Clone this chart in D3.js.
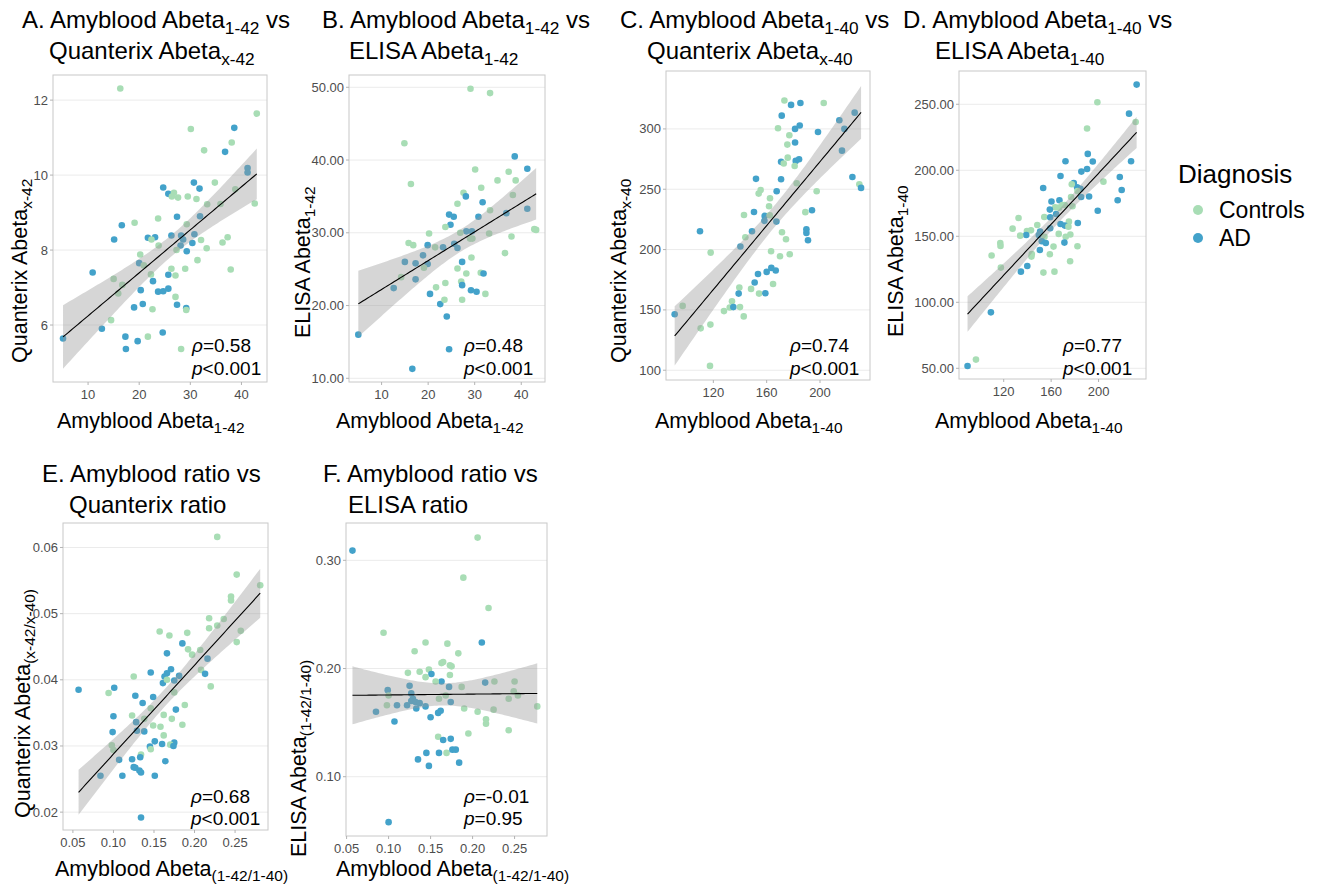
<!DOCTYPE html>
<html>
<head>
<meta charset="utf-8">
<script src="https://cdn.jsdelivr.net/npm/d3@7"></script>
<style>
body { margin: 0; background: #fff; }
svg { font-family: "Liberation Sans", Arial, sans-serif; }
.grid { stroke: #ebebeb; stroke-width: 1; }
.border { fill: none; stroke: #c8c8c8; stroke-width: 1; }
.tickmark { stroke: #b3b3b3; stroke-width: 1; }
.ticklabel { fill: #4d4d4d; font-size: 13px; }
.ribbon { fill: #999999; fill-opacity: 0.4; }
.fit { fill: none; stroke: #000; stroke-width: 1.1; }
.title { fill: #000; font-size: 24px; }
.axtitle { fill: #000; font-size: 21.5px; }
.stat { fill: #000; font-size: 19px; }
</style>
</head>
<body>
<svg id="chart" width="1324" height="885"></svg>
<script>
/* Groups */

var DIAGNOSIS = ["Controls", "AD"],
    COLORS    = ["#a8ddb5", "#43a2ca"];

/* Data: [x, y, group] with group 0 = Controls, 1 = AD */

var pointsA = [[16.3,12.31,0],[43.0,11.64,0],[38.6,11.26,1],[30.1,11.23,0],[38.1,10.87,0],[36.8,10.62,1],[32.7,10.66,0],[41.2,10.19,1],[41.2,10.07,1],[34.8,9.80,0],[30.7,9.80,1],[24.7,9.67,1],[31.8,9.64,1],[25.7,9.50,1],[26.8,9.53,0],[26.4,9.43,0],[27.6,9.40,0],[29.5,9.43,0],[31.2,9.36,0],[38.8,9.62,0],[33.3,9.22,0],[35.9,9.23,0],[42.6,9.24,0],[31.9,8.90,1],[27.4,8.89,1],[23.7,8.84,0],[19.1,8.73,0],[16.6,8.66,1],[29.3,8.69,0],[30.8,8.42,1],[26.3,8.39,1],[28.2,8.39,1],[23.1,8.34,1],[21.7,8.33,1],[15.1,8.28,1],[22.4,8.28,0],[32.1,8.27,0],[37.3,8.34,0],[36.3,8.20,0],[28.6,8.28,1],[28.1,8.12,1],[23.8,8.12,0],[30.4,8.19,1],[33.2,8.05,0],[27.3,8.00,0],[29.3,7.97,1],[20.2,7.88,0],[20.0,7.65,1],[20.9,7.59,0],[31.4,7.73,0],[10.9,7.40,1],[22.3,7.35,0],[25.7,7.34,1],[26.3,7.50,0],[27.1,7.32,0],[29.0,7.50,0],[37.9,7.48,0],[15.0,7.23,0],[16.7,7.07,0],[22.7,7.17,1],[20.3,6.93,1],[23.7,6.89,1],[24.7,6.90,1],[25.7,6.97,1],[15.9,6.84,0],[27.1,6.75,0],[20.7,6.56,1],[19.0,6.47,1],[22.6,6.42,0],[27.4,6.54,1],[29.2,6.45,1],[29.2,6.40,0],[14.5,6.13,0],[12.7,5.90,1],[5.1,5.64,1],[17.3,5.69,1],[21.7,5.69,0],[24.6,5.80,1],[19.7,5.57,1],[17.4,5.36,1],[28.2,5.36,0]];

var pointsB = [[29.1,49.8,0],[33.3,49.2,0],[14.9,42.3,0],[38.6,40.5,1],[30.1,38.7,0],[41.3,38.8,1],[37.3,38.4,0],[34.9,37.2,0],[38.8,37.2,0],[16.3,36.7,0],[31.4,36.2,0],[27.6,35.5,0],[28.1,35.0,1],[38.2,35.2,0],[31.7,34.2,1],[26.3,34.0,0],[33.3,33.1,0],[41.3,33.3,1],[36.8,32.7,1],[24.5,32.5,1],[25.5,32.2,1],[30.8,32.2,1],[24.8,31.1,1],[23.7,30.8,0],[28.2,30.2,1],[29.4,30.2,1],[33.1,29.9,0],[26.9,30.0,0],[42.8,30.5,0],[43.2,30.4,0],[29.0,29.2,0],[29.5,29.2,0],[20.2,29.9,0],[37.9,29.5,0],[19.9,28.3,1],[15.8,28.6,0],[16.8,28.3,0],[25.6,28.5,1],[21.5,28.0,0],[23.2,28.0,1],[26.3,27.9,1],[18.9,26.9,1],[15.0,26.0,1],[27.3,26.0,1],[17.3,25.8,1],[29.3,26.6,0],[36.5,27.2,0],[19.9,25.7,1],[19.1,25.2,0],[26.3,25.1,0],[28.2,24.4,0],[31.3,24.5,0],[31.9,24.4,1],[14.2,23.9,0],[17.3,23.6,1],[23.7,23.1,0],[27.1,23.3,0],[27.3,22.8,1],[21.7,22.5,0],[12.6,22.4,1],[29.2,22.1,1],[30.4,21.9,1],[32.3,21.6,0],[20.4,21.6,1],[22.6,20.2,1],[23.5,20.8,0],[27.3,20.8,0],[24.0,18.5,1],[5.0,16.0,1],[24.5,14.0,1],[16.6,11.3,1]];

var pointsC = [[173.3,323.5,0],[178.3,319.9,1],[185.3,321.5,1],[202.8,321.5,0],[226.0,313.5,1],[171.3,311.0,1],[214.5,307.2,1],[184.8,302.8,1],[181.3,300.0,1],[168.5,300.6,0],[218.3,300.0,1],[198.5,297.5,1],[177.0,294.8,0],[175.5,287.0,0],[181.3,288.7,1],[216.5,282.0,1],[175.8,276.2,0],[170.8,272.7,1],[172.8,271.3,0],[181.8,273.5,1],[184.3,274.9,1],[181.0,269.3,0],[152.0,258.6,1],[170.8,258.3,1],[182.5,255.0,0],[155.5,249.4,0],[154.0,246.4,0],[167.5,248.3,1],[197.5,248.3,0],[224.3,260.2,1],[229.5,254.1,0],[230.8,251.1,1],[162.5,242.5,0],[161.8,235.9,0],[150.5,231.2,1],[194.0,232.6,1],[189.0,231.0,0],[143.0,228.7,0],[158.5,227.9,1],[162.3,228.5,0],[158.3,223.8,1],[167.3,223.2,1],[110.0,215.2,1],[149.0,215.2,1],[144.0,210.2,0],[171.5,214.4,0],[189.8,216.9,1],[189.8,213.8,1],[191.0,207.7,1],[174.5,208.6,0],[140.3,202.5,1],[118.0,197.5,0],[163.3,198.6,0],[170.0,194.5,0],[177.3,196.1,0],[163.5,184.8,1],[166.8,182.6,1],[160.0,181.5,1],[153.5,179.8,1],[164.8,171.5,0],[151.0,172.7,1],[139.5,168.5,0],[148.3,167.4,0],[139.0,163.5,1],[154.3,163.5,0],[159.0,163.8,1],[134.0,157.2,0],[132.3,152.0,0],[135.0,152.3,1],[140.0,152.3,0],[128.0,149.0,0],[97.0,153.3,0],[91.0,146.4,1],[142.8,144.6,0],[110.5,134.7,0],[117.8,137.8,0],[117.5,103.6,0]];

var pointsD = [[232.1,264.9,1],[199.0,251.5,0],[225.7,242.9,1],[231.3,236.6,0],[190.3,231.6,0],[190.9,212.4,1],[195.1,206.6,1],[172.1,206.8,1],[227.4,206.8,1],[190.3,201.0,1],[185.5,199.0,1],[167.9,195.7,1],[217.9,194.9,1],[204.1,191.4,0],[179.1,190.4,1],[219.5,185.1,1],[181.9,187.1,1],[184.7,185.9,1],[153.3,186.6,1],[177.4,189.4,0],[182.2,184.3,0],[216.1,177.3,1],[192.0,180.1,1],[185.3,179.8,1],[176.8,179.8,0],[160.3,176.3,1],[167.0,177.3,1],[171.5,173.7,0],[169.5,173.7,0],[178.0,172.7,0],[163.4,172.0,0],[166.7,171.7,0],[199.3,169.4,1],[158.9,170.2,1],[164.2,166.9,1],[132.5,163.9,0],[154.2,164.6,0],[159.2,164.4,1],[175.0,161.1,0],[182.5,160.1,1],[167.9,159.3,1],[171.5,158.1,1],[174.6,157.3,0],[148.3,158.6,0],[127.5,155.8,0],[159.2,156.1,1],[143.0,154.5,0],[139.6,154.0,0],[150.7,153.5,1],[139.0,151.0,1],[149.6,151.0,1],[133.9,150.5,0],[176.2,151.3,0],[154.4,149.7,0],[172.3,149.7,0],[166.4,151.8,0],[117.1,144.9,0],[117.3,142.7,0],[152.1,146.2,1],[155.5,144.9,1],[162.0,142.2,0],[182.2,142.4,0],[171.2,145.2,1],[150.5,139.6,1],[158.9,136.4,0],[143.7,136.6,0],[143.4,134.6,0],[109.8,135.4,0],[176.0,131.1,0],[117.6,126.3,0],[139.9,127.5,1],[134.5,123.2,1],[153.5,122.5,0],[162.8,123.2,0],[109.2,92.4,1],[96.6,56.6,0],[89.5,51.8,1]];

var pointsE = [[0.228,0.0616,0],[0.252,0.0559,0],[0.281,0.0543,0],[0.245,0.0526,0],[0.245,0.0520,0],[0.218,0.0493,0],[0.236,0.0492,0],[0.228,0.0482,0],[0.218,0.0478,0],[0.257,0.0474,0],[0.157,0.0473,0],[0.169,0.0467,0],[0.191,0.0471,0],[0.185,0.0455,1],[0.252,0.0457,0],[0.192,0.0446,0],[0.207,0.0445,0],[0.197,0.0438,0],[0.166,0.0440,1],[0.216,0.0432,1],[0.208,0.0415,0],[0.213,0.0409,1],[0.220,0.0390,0],[0.171,0.0416,1],[0.166,0.0410,1],[0.163,0.0405,1],[0.181,0.0406,1],[0.146,0.0411,1],[0.125,0.0405,0],[0.175,0.0399,1],[0.161,0.0395,1],[0.166,0.0400,0],[0.101,0.0388,1],[0.094,0.0380,0],[0.057,0.0385,1],[0.127,0.0376,1],[0.149,0.0374,1],[0.136,0.0365,1],[0.175,0.0381,0],[0.188,0.0362,0],[0.146,0.0357,0],[0.177,0.0355,1],[0.100,0.0345,1],[0.123,0.0346,0],[0.162,0.0347,0],[0.138,0.0341,0],[0.172,0.0341,0],[0.128,0.0336,1],[0.149,0.0331,0],[0.158,0.0329,0],[0.185,0.0332,0],[0.099,0.0321,1],[0.129,0.0323,1],[0.138,0.0322,1],[0.162,0.0316,0],[0.151,0.0307,1],[0.160,0.0303,1],[0.175,0.0305,1],[0.170,0.0302,0],[0.174,0.0300,1],[0.145,0.0299,1],[0.098,0.0301,0],[0.100,0.0294,0],[0.146,0.0295,0],[0.134,0.0287,0],[0.133,0.0283,1],[0.123,0.0280,1],[0.107,0.0279,1],[0.164,0.0277,1],[0.127,0.0267,1],[0.125,0.0268,1],[0.132,0.0263,1],[0.134,0.0260,1],[0.084,0.0255,1],[0.111,0.0255,1],[0.151,0.0255,1],[0.134,0.0192,1]];

var pointsF = [[0.057,0.309,1],[0.206,0.321,0],[0.189,0.284,0],[0.219,0.256,0],[0.094,0.233,0],[0.211,0.224,1],[0.144,0.224,0],[0.131,0.216,0],[0.170,0.223,0],[0.183,0.214,0],[0.163,0.205,0],[0.165,0.206,0],[0.173,0.203,0],[0.175,0.202,0],[0.148,0.199,0],[0.123,0.196,0],[0.137,0.197,0],[0.151,0.195,1],[0.173,0.194,0],[0.144,0.192,0],[0.163,0.188,1],[0.156,0.188,0],[0.215,0.187,1],[0.226,0.188,0],[0.250,0.188,0],[0.187,0.183,0],[0.125,0.184,1],[0.172,0.183,1],[0.099,0.180,1],[0.249,0.179,0],[0.127,0.177,1],[0.100,0.175,0],[0.168,0.175,0],[0.254,0.175,0],[0.243,0.172,0],[0.129,0.172,1],[0.160,0.172,0],[0.127,0.170,1],[0.132,0.169,1],[0.137,0.168,1],[0.174,0.169,1],[0.110,0.166,1],[0.098,0.166,0],[0.122,0.166,1],[0.144,0.165,1],[0.277,0.165,0],[0.133,0.163,1],[0.190,0.163,0],[0.225,0.162,0],[0.206,0.160,0],[0.085,0.160,1],[0.162,0.161,1],[0.159,0.159,1],[0.150,0.155,1],[0.216,0.153,0],[0.216,0.149,0],[0.107,0.151,1],[0.195,0.140,0],[0.243,0.143,0],[0.159,0.137,0],[0.165,0.134,1],[0.174,0.135,1],[0.145,0.122,1],[0.160,0.122,1],[0.169,0.122,0],[0.176,0.125,1],[0.180,0.125,1],[0.135,0.116,1],[0.148,0.110,1],[0.184,0.113,1],[0.100,0.058,1]];

var POINTS = [pointsA, pointsB, pointsC, pointsD, pointsE, pointsF];

/* Statistics labels */

var RHO_LABELS = ["0.58", "0.48", "0.74", "0.77", "0.68", "-0.01"],
    P_LABELS   = ["<0.001", "<0.001", "<0.001", "<0.001", "<0.001", "=0.95"];

/* Axes */

var X_DOMAINS = [[3.14, 45.0], [3.0, 45.1], [84.5, 237.5], [82.3, 240], [0.0378, 0.2906], [0.0493, 0.2886]],
    Y_DOMAINS = [[4.48, 12.67], [9.49, 51.69], [91.9, 348], [41.9, 275.2], [0.0173, 0.0637], [0.0452, 0.3345]];

var X_TICKS = [[10, 20, 30, 40], [10, 20, 30, 40], [120, 160, 200], [120, 160, 200],
               [0.05, 0.10, 0.15, 0.20, 0.25], [0.05, 0.10, 0.15, 0.20, 0.25]],
    Y_TICKS = [[6, 8, 10, 12], [10, 20, 30, 40, 50], [100, 150, 200, 250, 300], [50, 100, 150, 200, 250],
               [0.02, 0.03, 0.04, 0.05, 0.06], [0.10, 0.20, 0.30]];

var X_FORMATS = ["d", "d", "d", "d", ".2f", ".2f"],
    Y_FORMATS = ["d", ".2f", "d", ".2f", ".2f", ".2f"];

/* Texts ( _{..} is a subscript ) */

var TITLES = [["A. Amyblood Abeta_{1-42} vs", "Quanterix Abeta_{x-42}"],
              ["B. Amyblood Abeta_{1-42} vs", "ELISA Abeta_{1-42}"],
              ["C. Amyblood Abeta_{1-40} vs", "Quanterix Abeta_{x-40}"],
              ["D. Amyblood Abeta_{1-40} vs", "ELISA Abeta_{1-40}"],
              ["E. Amyblood ratio vs", "Quanterix ratio"],
              ["F. Amyblood ratio vs", "ELISA ratio"]];

var X_LABELS = ["Amyblood Abeta_{1-42}", "Amyblood Abeta_{1-42}", "Amyblood Abeta_{1-40}",
                "Amyblood Abeta_{1-40}", "Amyblood Abeta_{(1-42/1-40)}", "Amyblood Abeta_{(1-42/1-40)}"],
    Y_LABELS = ["Quanterix Abeta_{x-42}", "ELISA Abeta_{1-42}", "Quanterix Abeta_{x-40}",
                "ELISA Abeta_{1-40}", "Quanterix Abeta_{(x-42/x-40)}", "ELISA Abeta_{(1-42/1-40)}"];

/* Measures */

var W = 1324,
    H = 885;

var PANELS = [
	 {left:  53, right:  267, top:  75, bottom: 382, row: 0, title: [22, 49],   xlab: 57,  ylab: [27, 363],  stat: 192}
	,{left: 349, right:  545, top:  75, bottom: 382, row: 0, title: [322, 349], xlab: 336, ylab: [310, 338], stat: 464}
	,{left: 666, right:  870, top:  71, bottom: 380, row: 0, title: [620, 647], xlab: 655, ylab: [626, 363], stat: 790}
	,{left: 959, right: 1146, top:  71, bottom: 379, row: 0, title: [903, 935], xlab: 935, ylab: [903, 337], stat: 1063}
	,{left:  63, right:  268, top: 523, bottom: 830, row: 1, title: [42, 69],   xlab: 55,  ylab: [30, 818],  stat: 191}
	,{left: 346, right:  547, top: 523, bottom: 836, row: 1, title: [323, 348], xlab: 336, ylab: [306, 857], stat: 464}
];

var TITLE_BASELINES = [[28, 59], [482, 513]],
    XLAB_BASELINES  = [428, 876],
    STAT_BASELINES  = [[352, 375], [803, 825]];

var POINT_RADIUS = 3.3,
    TICK_LENGTH  = 3,
    SUB_SCALE    = 0.72,
    SUB_SHIFT    = 0.25;

var svg = d3.select("#chart");

/* Helpers */

function richText(sel, str, size) {
	var parts = str.split(/_\{([^}]*)\}/),
	    shift = 0;
	parts.forEach(function(part, i) {
		if (!part) return;
		var isSub = i % 2 === 1,
		    target = isSub ? Math.round(size * SUB_SHIFT) : 0;
		var t = sel.append("tspan").attr("dy", target - shift).text(part);
		if (isSub) t.style("font-size", (size * SUB_SCALE) + "px");
		shift = target;
	});
	return sel;
}

// rough 97.5% t quantile
function tQuantile(df) {
	var z = 1.959964;
	return z + (Math.pow(z, 3) + z) / (4 * df) + (5 * Math.pow(z, 5) + 16 * Math.pow(z, 3) + 3 * z) / (96 * df * df);
}

// lm fit with 95% confidence band, like geom_smooth(method = "lm")
function fitBand(points) {
	var n  = points.length,
	    mx = d3.mean(points, function(d) { return d[0]; }),
	    my = d3.mean(points, function(d) { return d[1]; });
	var sxx = d3.sum(points, function(d) { return (d[0] - mx) * (d[0] - mx); }),
	    sxy = d3.sum(points, function(d) { return (d[0] - mx) * (d[1] - my); });
	var b = sxy / sxx,
	    a = my - b * mx;
	var s = Math.sqrt(d3.sum(points, function(d) { var r = d[1] - a - b * d[0]; return r * r; }) / (n - 2));
	var t = tQuantile(n - 2),
	    ext = d3.extent(points, function(d) { return d[0]; });
	return d3.range(80).map(function(i) {
		var x   = ext[0] + (ext[1] - ext[0]) * i / 79,
		    fit = a + b * x,
		    se  = s * Math.sqrt(1 / n + (x - mx) * (x - mx) / sxx);
		return {x: x, fit: fit, lo: fit - t * se, hi: fit + t * se};
	});
}

/* Panels */

function drawPanel(p, i) {
	var x = d3.scaleLinear().domain(X_DOMAINS[i]).range([p.left, p.right]),
	    y = d3.scaleLinear().domain(Y_DOMAINS[i]).range([p.bottom, p.top]);
	var g = svg.append("g").attr("class", "panel");

	g.append("clipPath").attr("id", "clip" + i)
		.append("rect")
		.attr("x", p.left).attr("y", p.top)
		.attr("width", p.right - p.left).attr("height", p.bottom - p.top);

	g.selectAll("line.grid")
		.data(Y_TICKS[i])
		.enter().append("line")
		.attr("class", "grid")
		.attr("x1", p.left).attr("x2", p.right)
		.attr("y1", function(d) { return y(d); })
		.attr("y2", function(d) { return y(d); });

	var body = g.append("g").attr("clip-path", "url(#clip" + i + ")");

	body.selectAll("circle")
		.data(POINTS[i])
		.enter().append("circle")
		.attr("cx", function(d) { return x(d[0]); })
		.attr("cy", function(d) { return y(d[1]); })
		.attr("r", POINT_RADIUS)
		.attr("fill", function(d) { return COLORS[d[2]]; });

	var band = fitBand(POINTS[i]);

	body.append("path")
		.datum(band)
		.attr("class", "ribbon")
		.attr("d", d3.area()
			.x(function(d) { return x(d.x); })
			.y0(function(d) { return y(d.lo); })
			.y1(function(d) { return y(d.hi); }));

	body.append("path")
		.datum(band)
		.attr("class", "fit")
		.attr("d", d3.line()
			.x(function(d) { return x(d.x); })
			.y(function(d) { return y(d.fit); }));

	g.append("rect")
		.attr("class", "border")
		.attr("x", p.left).attr("y", p.top)
		.attr("width", p.right - p.left).attr("height", p.bottom - p.top);

	// ticks
	var xf = d3.format(X_FORMATS[i]),
	    yf = d3.format(Y_FORMATS[i]);

	g.selectAll("line.xtick")
		.data(X_TICKS[i])
		.enter().append("line")
		.attr("class", "tickmark")
		.attr("x1", function(d) { return x(d); }).attr("x2", function(d) { return x(d); })
		.attr("y1", p.bottom).attr("y2", p.bottom + TICK_LENGTH);

	g.selectAll("text.xtick")
		.data(X_TICKS[i])
		.enter().append("text")
		.attr("class", "ticklabel")
		.attr("text-anchor", "middle")
		.attr("x", function(d) { return x(d); })
		.attr("y", p.bottom + 17)
		.text(xf);

	g.selectAll("line.ytick")
		.data(Y_TICKS[i])
		.enter().append("line")
		.attr("class", "tickmark")
		.attr("x1", p.left - TICK_LENGTH).attr("x2", p.left)
		.attr("y1", function(d) { return y(d); }).attr("y2", function(d) { return y(d); });

	g.selectAll("text.ytick")
		.data(Y_TICKS[i])
		.enter().append("text")
		.attr("class", "ticklabel")
		.attr("text-anchor", "end")
		.attr("x", p.left - 5)
		.attr("y", function(d) { return y(d) + 4.5; })
		.text(yf);

	// titles
	TITLES[i].forEach(function(line, k) {
		richText(g.append("text")
			.attr("class", "title")
			.attr("x", p.title[k])
			.attr("y", TITLE_BASELINES[p.row][k]), line, 24);
	});

	richText(g.append("text")
		.attr("class", "axtitle")
		.attr("x", p.xlab)
		.attr("y", XLAB_BASELINES[p.row]), X_LABELS[i], 21.5);

	richText(g.append("text")
		.attr("class", "axtitle")
		.attr("transform", "translate(" + p.ylab[0] + " " + p.ylab[1] + ") rotate(-90)"), Y_LABELS[i], 21.5);

	// correlation
	var rho = g.append("text")
		.attr("class", "stat")
		.attr("x", p.stat)
		.attr("y", STAT_BASELINES[p.row][0]);
	rho.append("tspan").style("font-style", "italic").text("\u03c1");
	rho.append("tspan").text("=" + RHO_LABELS[i]);

	var pv = g.append("text")
		.attr("class", "stat")
		.attr("x", p.stat)
		.attr("y", STAT_BASELINES[p.row][1]);
	pv.append("tspan").style("font-style", "italic").text("p");
	pv.append("tspan").text(P_LABELS[i]);
}

PANELS.forEach(drawPanel);

/* Legend */

function addLegend() {
	var legend = svg.append("g").attr("id", "legend");

	legend.append("text")
		.attr("x", 1178)
		.attr("y", 183)
		.style("font-size", "26px")
		.text("Diagnosis");

	legend.selectAll("circle")
		.data(DIAGNOSIS)
		.enter().append("circle")
		.attr("cx", 1198)
		.attr("cy", function(d, i) { return 210 + i * 28; })
		.attr("r", 5)
		.attr("fill", function(d, i) { return COLORS[i]; });

	legend.selectAll("text.item")
		.data(DIAGNOSIS)
		.enter().append("text")
		.attr("class", "item")
		.attr("x", 1219)
		.attr("y", function(d, i) { return 218 + i * 28; })
		.style("font-size", "23px")
		.text(String);
}

addLegend();
</script>
</body>
</html>
